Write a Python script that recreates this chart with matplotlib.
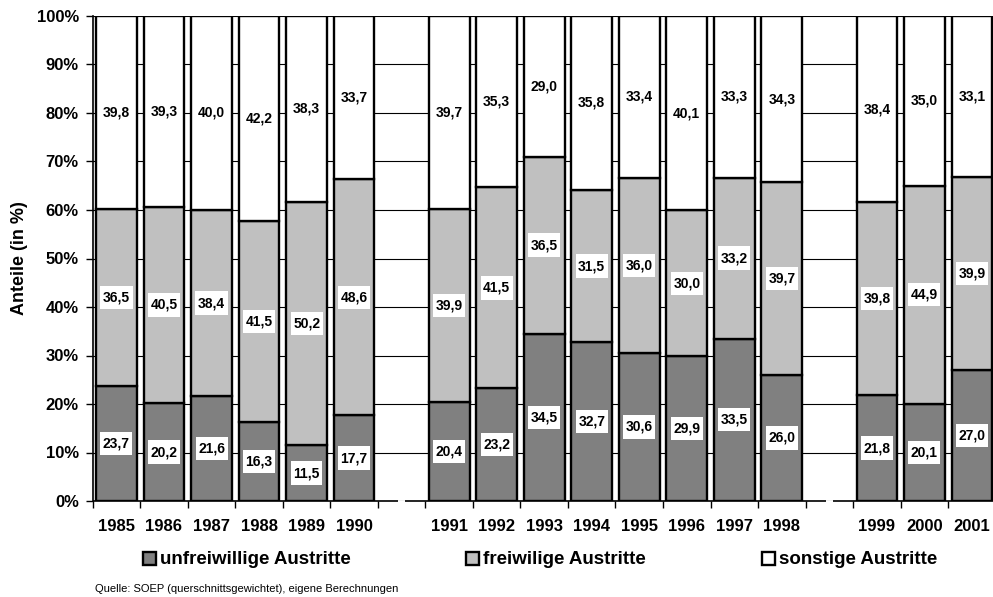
import matplotlib
matplotlib.use("Agg")
import matplotlib.pyplot as plt
from matplotlib.patches import Rectangle
from matplotlib.path import Path

plt.rcParams['font.family'] = ['Liberation Sans', 'DejaVu Sans']

years = ["1985", "1986", "1987", "1988", "1989", "1990",
         "1991", "1992", "1993", "1994", "1995", "1996", "1997", "1998",
         "1999", "2000", "2001"]
group_of_year = [0]*6 + [1]*8 + [2]*3
unfreiwillig = [23.7, 20.2, 21.6, 16.3, 11.5, 17.7,
                20.4, 23.2, 34.5, 32.7, 30.6, 29.9, 33.5, 26.0,
                21.8, 20.1, 27.0]
freiwillig = [36.5, 40.5, 38.4, 41.5, 50.2, 48.6,
              39.9, 41.5, 36.5, 31.5, 36.0, 30.0, 33.2, 39.7,
              39.8, 44.9, 39.9]
sonstige = [39.8, 39.3, 40.0, 42.2, 38.3, 33.7,
            39.7, 35.3, 29.0, 35.8, 33.4, 40.1, 33.3, 34.3,
            38.4, 35.0, 33.1]
series_names = ["unfreiwillige Austritte", "freiwilige Austritte", "sonstige Austritte"]
colors = ["#808080", "#c0c0c0", "#ffffff"]
source = "Quelle: SOEP (querschnittsgewichtet), eigene Berechnungen"


def tallbox(x0, y0, width, height, mutation_size):
    px = 0.18 * mutation_size
    py = 0.34 * mutation_size
    verts = [(x0 - px, y0 - py), (x0 + width + px, y0 - py),
             (x0 + width + px, y0 + height + py), (x0 - px, y0 + height + py),
             (x0 - px, y0 - py)]
    return Path(verts, closed=True)


W, H = 993, 597
fig = plt.figure(figsize=(W/100, H/100), dpi=100)
left_px, right_px, top_px, bot_px = 92.7, 995.7, 16, 501
ax = fig.add_axes([left_px/W, 1-bot_px/H, (right_px-left_px)/W, (bot_px-top_px)/H])

pos = [i + g for i, g in enumerate(group_of_year)]
n_slots = pos[-1] + 1
gap_slots = [s for s in range(n_slots) if s not in pos]

ax.set_xlim(-0.5, n_slots - 0.5)
ax.set_ylim(0, 100)

ax.set_yticks(range(0, 101, 10))
ax.set_yticklabels([f"{v}%" for v in range(0, 101, 10)], fontweight='bold', fontsize=12)
ax.yaxis.grid(True, color='black', linewidth=0.8)
ax.set_axisbelow(True)

bw = 0.857
bottoms = [0]*len(years)
for vals, col in zip([unfreiwillig, freiwillig, sonstige], colors):
    ax.bar(pos, vals, bw, bottom=bottoms, color=col, edgecolor='black', linewidth=1.7, zorder=2)
    for x, b, v in zip(pos, bottoms, vals):
        ax.text(x, b + v/2, f"{v:.1f}".replace('.', ','), ha='center', va='center',
                fontsize=10, fontweight='bold', zorder=4,
                bbox=dict(boxstyle=tallbox, facecolor='white', edgecolor='none'))
    bottoms = [b + v for b, v in zip(bottoms, vals)]

ax.set_xticks([s - 0.5 for s in range(n_slots + 1)])
ax.set_xticklabels([])
ax.set_xticks(pos, minor=True)
ax.set_xticklabels(years, minor=True, fontweight='bold', fontsize=12)
ax.tick_params(axis='x', which='major', length=5, width=1, direction='out')
ax.tick_params(axis='x', which='minor', length=0, pad=13)
ax.tick_params(axis='y', length=5, width=1, direction='out', pad=5)

for s in ['top', 'right', 'bottom']:
    ax.spines[s].set_visible(False)
ax.spines['left'].set_linewidth(1.2)

segs = []
start = -0.5
for g in gap_slots:
    segs.append((start, g - 0.07))
    start = g + 0.07
segs.append((start, n_slots - 0.5))
for a, b in segs:
    ax.plot([a, b], [0, 0], color='black', linewidth=1.2, clip_on=False, zorder=3,
            solid_capstyle='butt')

fig.text(20/W, 1 - 258/H, "Anteile (in %)", rotation=90, ha='center', va='center',
         fontweight='bold', fontsize=13)

leg_sq_x = [142.7, 466, 761.7]
leg_y = 558
sq = 13
for x0, col, name in zip(leg_sq_x, colors, series_names):
    fig.patches.append(Rectangle((x0/W, 1 - (leg_y + sq/2)/H), sq/W, sq/H,
                                 transform=fig.transFigure, facecolor=col,
                                 edgecolor='black', linewidth=1.7))
    fig.text((x0 + sq + 4)/W, 1 - (leg_y + 1)/H, name, ha='left', va='center',
             fontweight='bold', fontsize=13.5)

fig.text(95/W, 1 - 589/H, source, ha='left', va='center', fontsize=8)

fig.savefig("out.png", dpi=100)
